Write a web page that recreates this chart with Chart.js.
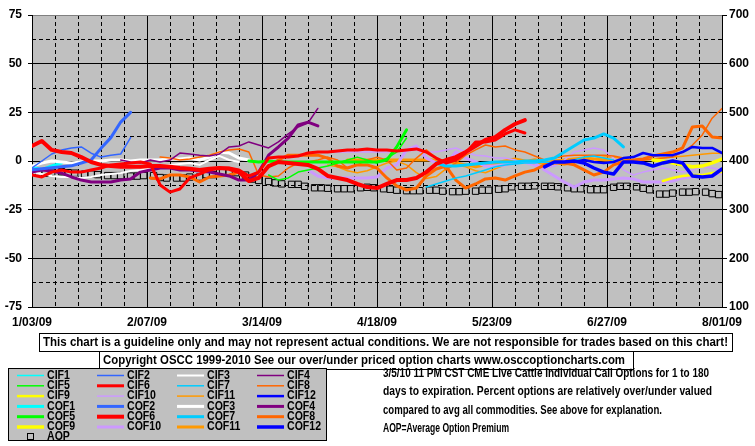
<!DOCTYPE html>
<html>
<head>
<meta charset="utf-8">
<script src="https://cdn.jsdelivr.net/npm/chart.js@4.4.1/dist/chart.umd.min.js"></script>
<style>
  html, body { margin: 0; padding: 0; background: #fff; }
  #wrap { width: 755px; height: 446px; }
</style>
</head>
<body>
<div id="wrap"><canvas id="c" width="755" height="446"></canvas></div>
<script>
// x axis is in days from 1/03/09, series are sampled every STEP days
const STEP = 3;
const dateLabels = ['1/03/09', '2/07/09', '3/14/09', '4/18/09', '5/23/09', '6/27/09', '8/01/09'];

// percent over/under valued (left axis), first sample index in *Start
const cif1 = [];            const cif1Start = 0;
const cof1 = [-3, -4.5, -2.5, -1]; const cof1Start = 0;
const cif2 = [-3.6, 0, 3.6, 5.6, 6.7, 7.2, 4, 2, 3, 3.6, 12]; const cif2Start = 0;
const cof2 = [-4.5, -4, -3.5, -3, -2.5, -1, 0.5, 6.5, 12, 20, 25]; const cof2Start = 0;
const cif3 = [-5.7, -6.7, -7.7, -8.2, -8.2, -8.7, -8.2, -7.2, -6.7, -6.2, -5.1, -4.6, -3.6, -2.6, -2, -1.5, -1, -2, 0.5, 2.6, 0.5, -0.5];
const cif3Start = 0;
const cof3 = [-2.6, -1, 0, -0.5, -1, -0.5, 0, 0, 0.5, 0.5, 0, 0.5, 0.5, 0.5, 1, 1, 1.5, 0.5, 2, 4.6, 4.1, 1.5, 0.5];
const cof3Start = 0;
const cif4 = [0.5, -0.5, -1, 0.5, -0.5, 0.5, 4.1, 3.6, 3, 2.6, 3.6, 7.2, 7.7, 9.8, 8.2, 6.7, 9.8, 13.9, 17.5, 19.5, 27];
const cif4Start = 9;
const cof4 = [-5.7, -4.6, -5.1, -6.2, -8.2, -9.8, -10.8, -10.8, -10.8, -9.8, -9.2, -5.7, -4.6, -3.6, -3.6, -4.6, -4.6, -5.1, -5.7, -6.7, -7.7, -9.8, -9.8, -5.7, 3, 7.2, 11.8, 18.5, 20, 18];
const cof4Start = 0;
const cif5 = [-7.2, -9.8, -8.7, -5.7, -4.6, -3.6, -2.6, -1, 0.5, 2, 0.5, -1, 1.5, 4.6, 11.8];
const cif5Start = 24;
const cof5 = [0, -0.5, 0, -0.5, -0.5, -0.5, -0.5, -0.5, -0.5, -0.5, -0.5, -0.5, -0.5, -0.5, 0.5, 7.2, 16];
const cof5Start = 22;
const cif6 = [-7.2, -8.2, -5.7, -4.6, -5.7, -5.7, -4.6, -3.6, -2, -1.5, -1, -0.5, -1.5, -12.3, -16, -14.4, -8.7, -6.7, -4.6, -3.6,
  -3.6, -4.6, -7.7, -5.7, 1.5, 2, 2, 2.6, 4.1, 4.6, 4.6, 5.1, 5.7, 5.7, 6.2, 5.7, 5.7, 5.1, 5.7, 6.2,
  4.6, 1.5, -1, 0.5, 4.1, 9.8, 9.8, 10.8, 13.9, 16, 14.4];
const cif6Start = 0;
const cof6 = [7.7, 10.3, 5.7, 4.6, 4.1, 2, -0.5, -2, -2.6, -3, -3, -3, -2.6, -2.6, -3, -3.6, -4, -4.6, -4, -3.6,
  -4, -5.7, -10.3, -8.7, -2.6, -0.5, -1, -1.5, -2, -4, -7.7, -8.7, -9.8, -11.8, -13.4, -13.9, -11.8, -9.8, -9.8, -8.7,
  -5.7, -1.5, 0.5, 2, 4.6, 7.7, 10.8, 12.3, 16, 19, 21];
const cof6Start = 0;
const cif7 = [-13.4, -11.8, -10.3, -8.7, -7.7, -6.2, -4.6, -3, -2, -1.5, -1, -1, -0.5, -1, -0.5, 0.5, 2, 2.6, 1.5, 0.5];
const cif7Start = 40;
const cof7 = [-1, -2.6, -2.6, -2, -1.5, -1, -0.5, -0.5, -0.5, 0, 0, 0.5, 1.5, 4.6, 7.7, 10.8, 11.8, 13.9, 11.8, 7.2];
const cof7Start = 41;
const cif8 = [2, 1.5, 0.5, 1, 2, 3, 4.6, 5.7, 6.2, 4.6, -7.2, -8.2, -7.7, -3.6, -1, -0.5, 0.5, 2, 0.5, -3.6,
  -2, 0.5, 2, 0.5, -4.6, -3.6, 1.5, 5.7, 1.5, -4.6, -1, 3, 5.7, 8.2, 7.2, 7.7, 5.7, 4.6, 2.6, 0.5,
  1.5, 2.6, 3, 3, 3, 3, 2.6, 1.5, 0.5, 0.5, 1, 1.5, 2, 4.6, 8.2, 13.4, 22, 27];
const cif8Start = 13;
const cof8 = [-8.7, -9.2, -7.2, -7.2, -8.2, -10.8, -8.2, -7.7, -7.2, -5.7, -9.8, -8.2, -3, 0.5, 3, 3, 3, 3, 1.5,
  -2.6, -3.6, -2, -2, -3.6, -8.7, -12.8, -14.9, -13.9, -7.7, -4.1, -2.6, -9.8, -13.9, -11.8, -9.2, -8.7, -9.8, -7.7, -5.7,
  -4.6, -2, -1, -1, -2, -4.6, -7.2, -5.7, -2, -0.5, 0.5, 1, 2.6, 3.6, 4.6, 6.7, 17.5, 18, 12.3, 11.8];
const cof8Start = 12;
const cif9 = [-10.3, -8.7, -7.7, -7.2, -7.2, -6.2, -5.7]; const cif9Start = 64;
const cof9 = [0.5, 0, -1, -2, -3, -2.6, -1, 1];        const cof9Start = 63;
const cif10 = [4.6, 4.6, 4.6, 4.6, 4.6, 4.6, 4.6, 5.1, 5.1, 5.7, 4.6, 4.6, 5.7, 6.7, 4.6, 3, 2.6, 1.5, 1.5, 0.5,
  -1, -2.6, -3.6, -2.6, 0.5, 4.6, 5.7, 6.7, 5.7, 1.5, -4.6, -7.2, -5.7, -4.6, -3.6, -4.6, -5.7, -4.6, -3, -3.6, -4.6];
const cif10Start = 30;
const cof10 = [-4.6, -7.7, -8.7, -8.7, -8.7, -8.7, -8.7, -8.2, -3.6, -2, 5.7, 7.7, 1.5, -1, -1.5, 4.6, 1.5, -0.5, -2.6, -2.6,
  -2, -1, -0.5, -1, -4.6, -7.7, -10.8, -13.4, -10.8, -9.8, -9.8, -9.2, -8.7, -9.2, -10.8, -10.8, -10.8, -10.3, -8.7, -8.2,
  -7.2, -6.7, -6.2];
const cof10Start = 28;
const cif11 = [-2, -3, -5, -6, -5, -3, -1, 0, -2, -6, -9, -8, -4, -2, -3, -5, -6, -4, -2, -1,
  0, 1, 0, -1, -2, -1, 0, 1, 2, 2, 1, 0, 0.5, 1, 1.5, 2, 2.5, 3, 3.5, 4, 4];
const cif11Start = 30;
const cof11 = [0.5, 0.5, 0.5, 0.5, 0.5, 0.5, 0.5, 0.5, 0.5, 0.5, 0, -1, -2, -3, -2, -1, 0, 1, 0, -1,
  -1, 0, 0.5, 1, 1.5, 1, 0.5, 0, -0.5];
const cof11Start = 32;
const cif12 = [-0.5, 0.5, -0.5, -1, -0.5, 1.5, 2, 4.1, 3, 3, 3, 4.6, 7.2, 6.7, 6.7, 4.1];
const cif12Start = 55;
const cof12 = [-3, -0.5, -0.5, 0, -1, -3.6, -5.7, -6.7, -0.5, -0.5, -1, -2.6, -1, 0, -1, -7.7, -8.2, -7.7, -4.1];
const cof12Start = 52;

// average option premium (right axis), Mon/Wed/Fri of each week
const aopWeekdays = [2, 4, 6];
const aop = [
  375, 375, 377, 378, 376, 375, 373, 373, 372, 370, 370, 370, 369, 369, 370,
  370, 366, 365, 365, 365, 367, 367, 372, 372, 377, 377, 376, 371, 363, 360,
  358, 355, 353, 352, 352, 348, 345, 345, 344, 343, 343, 343, 345, 346, 345,
  343, 342, 340, 339, 339, 339, 340, 340, 338, 337, 337, 338, 338, 340, 340,
  342, 343, 347, 348, 348, 349, 348, 348, 347, 345, 343, 343, 341, 341, 341,
  346, 348, 348, 347, 344, 341, 332, 332, 334, 336, 336, 337, 336, 333, 331
];

const colors = {
  1: '#00FFFF', 2: '#3366FF', 3: '#FFFFFF', 4: '#800080', 5: '#00FF00', 6: '#FF0000',
  7: '#00CCFF', 8: '#FF6600', 9: '#FFFF00', 10: '#CC99FF', 11: '#FF9900', 12: '#0000FF'
};

const FONT = '"Liberation Sans", Arial, sans-serif';
Chart.defaults.font.family = FONT;
Chart.defaults.font.size = 12;
Chart.defaults.font.weight = 'bold';
Chart.defaults.color = '#000';

function series(label, values, start, color, width) {
  return {
    label,
    data: values.map((v, k) => ({ x: (start + k) * STEP, y: v })),
    borderColor: color,
    backgroundColor: color,
    borderWidth: width,
    pointRadius: 0,
    tension: 0,
    borderJoinStyle: 'round',
    borderCapStyle: 'round',
    yAxisID: 'y'
  };
}

const aopPoints = aop.map((v, k) => ({ x: Math.floor(k / 3) * 7 + aopWeekdays[k % 3], y: v }));

const datasets = [
  series('COF6', cof6, cof6Start, colors[6], 4),
  series('CIF6', cif6, cif6Start, colors[6], 3),
  series('COF12', cof12, cof12Start, colors[12], 3.5),
  series('CIF12', cif12, cif12Start, colors[12], 2.5),
  series('COF9', cof9, cof9Start, colors[9], 3.5),
  series('CIF9', cif9, cif9Start, colors[9], 2.5),
  series('COF7', cof7, cof7Start, colors[7], 3),
  series('CIF7', cif7, cif7Start, colors[7], 1.5),
  series('COF5', cof5, cof5Start, colors[5], 3),
  series('CIF5', cif5, cif5Start, colors[5], 1.5),
  series('COF2', cof2, cof2Start, colors[2], 3),
  series('CIF2', cif2, cif2Start, colors[2], 1.5),
  series('COF4', cof4, cof4Start, colors[4], 3),
  series('CIF4', cif4, cif4Start, colors[4], 1.5),
  series('COF8', cof8, cof8Start, colors[8], 3),
  series('CIF8', cif8, cif8Start, colors[8], 1.5),
  series('COF3', cof3, cof3Start, colors[3], 3),
  series('CIF3', cif3, cif3Start, colors[3], 2),
  series('COF10', cof10, cof10Start, colors[10], 3),
  series('CIF10', cif10, cif10Start, colors[10], 1.5),
  series('COF11', cof11, cof11Start, colors[11], 3),
  series('CIF11', cif11, cif11Start, colors[11], 1.5),
  series('COF1', cof1, cof1Start, colors[1], 3),
  series('CIF1', cif1, cif1Start, colors[1], 1.5),
  {
    label: 'AOP',
    data: aopPoints,
    yAxisID: 'y2',
    showLine: false,
    pointStyle: 'rect',
    pointRadius: 4.5,
    pointBorderWidth: 1,
    pointBorderColor: '#000',
    pointBackgroundColor: 'rgba(0,0,0,0)',
    borderColor: '#000'
  }
];

const legendOrder = ['CIF1', 'CIF2', 'CIF3', 'CIF4', 'CIF5', 'CIF6', 'CIF7', 'CIF8', 'CIF9', 'CIF10', 'CIF11', 'CIF12',
  'COF1', 'COF2', 'COF3', 'COF4', 'COF5', 'COF6', 'COF7', 'COF8', 'COF9', 'COF10', 'COF11', 'COF12', 'AOP'];

const disclaimer = 'This chart is a guideline only and may not represent actual conditions. We are not responsible for trades based on this chart!';
const copyright = 'Copyright OSCC 1999-2010 See our over/under priced option charts www.osccoptioncharts.com';
const noteLines = [
  '3/5/10 11 PM CST CME Live Cattle Individual Call Options for 1 to 180',
  'days to expiration. Percent options are relatively over/under valued',
  'compared to avg all commodities. See above for explanation.',
  'AOP=Average Option Premium'
];

// text squeezed/stretched horizontally to the width it has in the picture
function fitText(ctx, text, x, y, width) {
  const w = ctx.measureText(text).width;
  ctx.save();
  ctx.translate(x, y);
  ctx.scale(width / w, 1);
  ctx.fillText(text, 0, 0);
  ctx.restore();
}

const plotBg = {
  id: 'plotBg',
  beforeDraw(chart) {
    const { ctx, chartArea: a } = chart;
    ctx.save();
    ctx.fillStyle = '#C0C0C0';
    ctx.fillRect(a.left, a.top, a.right - a.left, a.bottom - a.top);
    ctx.restore();
  }
};

const footer = {
  id: 'footer',
  afterDraw(chart) {
    const ctx = chart.ctx;
    ctx.save();
    ctx.lineWidth = 1;
    ctx.strokeStyle = '#000';
    ctx.fillStyle = '#000';
    ctx.textBaseline = 'middle';
    ctx.textAlign = 'left';

    // disclaimer and copyright boxes
    ctx.strokeRect(39.5, 333.5, 693, 18);
    ctx.strokeRect(99.5, 351.5, 534, 18);
    ctx.font = 'bold 12px ' + FONT;
    fitText(ctx, disclaimer, 43, 342.5, 685);
    fitText(ctx, copyright, 103, 361, 522);

    // legend box
    ctx.fillStyle = '#C0C0C0';
    ctx.fillRect(8, 368, 319, 73);
    ctx.strokeRect(8.5, 368.5, 318, 72);
    ctx.font = 'bold 12px ' + FONT;
    const colX = [17, 97, 177, 257];
    legendOrder.forEach((name, i) => {
      const ds = chart.data.datasets.find(d => d.label === name);
      const col = i % 4;
      const row = Math.floor(i / 4);
      const y = name === 'AOP' ? 437 : 375.5 + row * 10.3;
      const x = colX[col];
      if (name === 'AOP') {
        ctx.strokeStyle = '#000';
        ctx.lineWidth = 1;
        ctx.strokeRect(27.5, 433.5, 6, 6);
      } else {
        ctx.strokeStyle = ds.borderColor;
        ctx.lineWidth = ds.borderWidth;
        ctx.beginPath();
        ctx.moveTo(x, y);
        ctx.lineTo(x + 27, y);
        ctx.stroke();
      }
      ctx.fillStyle = '#000';
      fitText(ctx, name, x + 30, y, ctx.measureText(name).width * 0.88);
    });

    // note text on the right
    ctx.font = 'bold 13px ' + FONT;
    const noteW = [326, 329, 279, 126];
    noteLines.forEach((t, i) => fitText(ctx, t, 383, 373.5 + i * 18.3, noteW[i]));
    ctx.restore();
  }
};

const minorGrid = {
  color: '#000',
  lineWidth: 1,
  drawTicks: false,
  borderDash: [4, 3]
};

new Chart(document.getElementById('c'), {
  type: 'line',
  data: { datasets },
  options: {
    responsive: false,
    animation: false,
    devicePixelRatio: 1,
    events: [],
    layout: { padding: { top: 15, left: 0, right: 0, bottom: 0 } },
    plugins: { legend: { display: false }, tooltip: { enabled: false } },
    scales: {
      // weekly dashed lines
      xMinor: {
        type: 'linear',
        position: 'bottom',
        min: 0,
        max: 210,
        afterFit: s => { s.height = 0; },
        ticks: { display: false, stepSize: 7, autoSkip: false },
        grid: minorGrid,
        border: { display: false, dash: [4, 3] }
      },
      x: {
        type: 'linear',
        position: 'bottom',
        min: 0,
        max: 210,
        afterFit: s => { s.height = 139; },
        ticks: {
          stepSize: 35,
          autoSkip: false,
          maxRotation: 0,
          padding: 8,
          callback: v => dateLabels[v / 35]
        },
        grid: { color: '#000', lineWidth: 1, drawTicks: false },
        border: { color: '#000' }
      },
      yMinor: {
        type: 'linear',
        position: 'left',
        min: -75,
        max: 75,
        afterFit: s => { s.width = 0; },
        ticks: { display: false, stepSize: 25, autoSkip: false },
        afterBuildTicks: s => { s.ticks = s.ticks.map(t => ({ value: t.value + 12.5 })).filter(t => t.value < 75); },
        grid: minorGrid,
        border: { display: false, dash: [4, 3] }
      },
      y: {
        type: 'linear',
        position: 'left',
        min: -75,
        max: 75,
        afterFit: s => { s.width = 32; },
        ticks: { stepSize: 25, autoSkip: false, padding: 6 },
        grid: {
          color: c => (c.tick && c.tick.value === 75 ? '#808080' : '#000'),
          lineWidth: 1,
          tickLength: 4,
          tickColor: '#000'
        },
        border: { color: '#000' }
      },
      y2: {
        type: 'linear',
        position: 'right',
        min: 100,
        max: 700,
        afterFit: s => { s.width = 33; },
        ticks: { stepSize: 100, padding: 2 },
        grid: { drawOnChartArea: false, tickLength: 5, color: '#000' },
        border: { color: '#000' }
      }
    }
  },
  plugins: [plotBg, footer]
});
</script>
</body>
</html>
